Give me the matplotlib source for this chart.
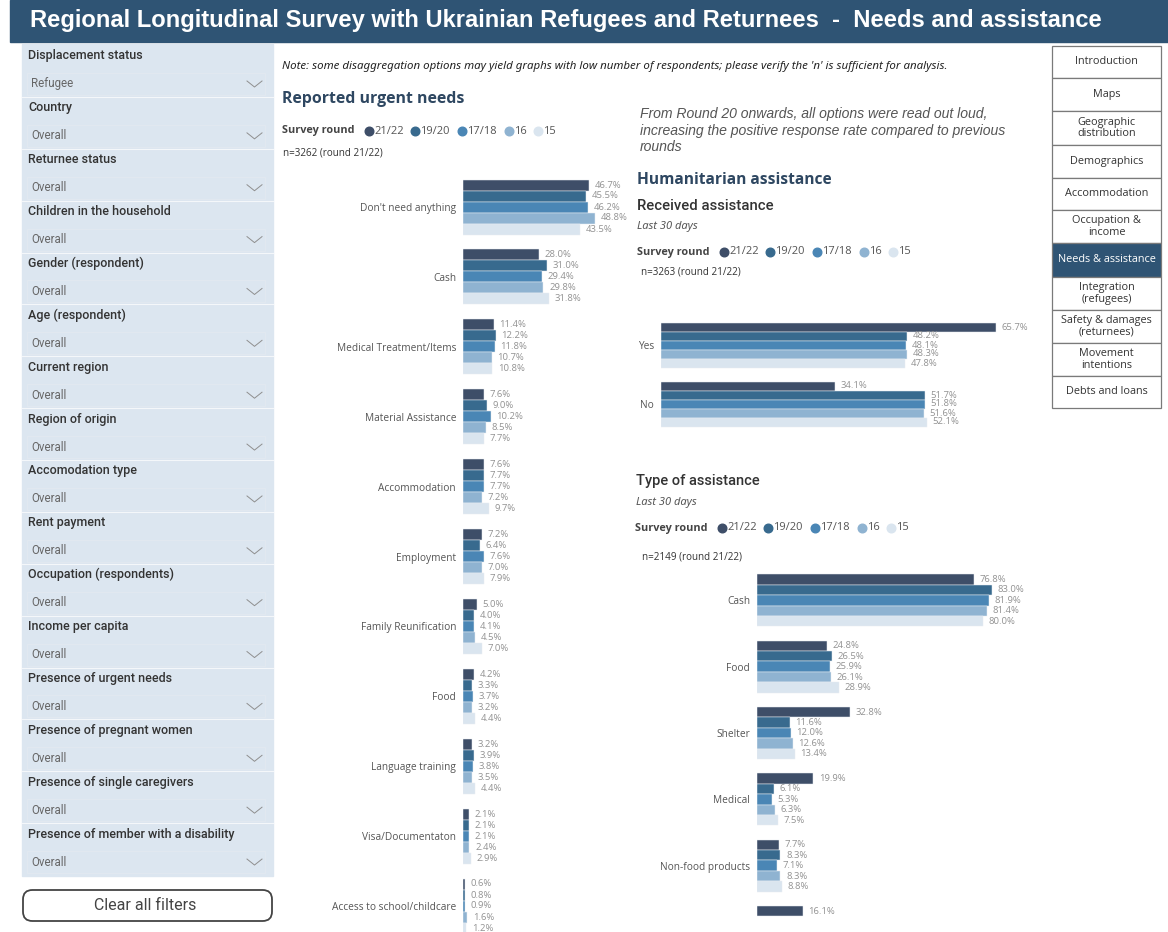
"""
Power BI style page: Needs and assistance (refugees), rebuilt with matplotlib.
Saves out.png at 1168x932.
"""

import numpy as np
import matplotlib
matplotlib.use("Agg")
import matplotlib.pyplot as plt
from matplotlib import font_manager as fm
from matplotlib.patches import Rectangle, FancyBboxPatch
from matplotlib.lines import Line2D

W, H = 1168, 932
DPI = 100

_names = {f.name for f in fm.fontManager.ttflist}
TITLE_FONT = "Liberation Sans Narrow" if "Liberation Sans Narrow" in _names else "Liberation Sans"
UI_FONT = "Open Sans"
ITALIC_FONT = "Noto Sans"
SIDE_FONT = "Roboto"
NOTE_FONT = "Liberation Sans"

HEADER_BLUE = "#2f5474"
SIDEBAR_BG = "#dce6f0"
TITLE_BLUE = "#2e4761"

# --- Data -------------------------------------------------------------------
ROUNDS = ["21/22", "19/20", "17/18", "16", "15"]
ROUND_COLORS = ["#3e4e68", "#386a8e", "#4a86b5", "#8fb3d1", "#dae5ef"]

NEEDS_CATS = ["Don't need anything", "Cash", "Medical Treatment/Items",
              "Material Assistance", "Accommodation", "Employment",
              "Family Reunification", "Food", "Language training",
              "Visa/Documentaton", "Access to school/childcare"]
NEEDS_2122 = [46.7, 28.0, 11.4, 7.6, 7.6, 7.2, 5.0, 4.2, 3.2, 2.1, 0.6]
NEEDS_1920 = [45.5, 31.0, 12.2, 9.0, 7.7, 6.4, 4.0, 3.3, 3.9, 2.1, 0.8]
NEEDS_1718 = [46.2, 29.4, 11.8, 10.2, 7.7, 7.6, 4.1, 3.7, 3.8, 2.1, 0.9]
NEEDS_16 = [48.8, 29.8, 10.7, 8.5, 7.2, 7.0, 4.5, 3.2, 3.5, 2.4, 1.6]
NEEDS_15 = [43.5, 31.8, 10.8, 7.7, 9.7, 7.9, 7.0, 4.4, 4.4, 2.9, 1.2]

RECEIVED_CATS = ["Yes", "No"]
RECEIVED_2122 = [65.7, 34.1]
RECEIVED_1920 = [48.2, 51.7]
RECEIVED_1718 = [48.1, 51.8]
RECEIVED_16 = [48.3, 51.6]
RECEIVED_15 = [47.8, 52.1]

# last category is cut off at the bottom of the page (only 16.1% visible)
TYPE_CATS = ["Cash", "Food", "Shelter", "Medical", "Non-food products", ""]
TYPE_2122 = [76.8, 24.8, 32.8, 19.9, 7.7, 16.1]
TYPE_1920 = [83.0, 26.5, 11.6, 6.1, 8.3, np.nan]
TYPE_1718 = [81.9, 25.9, 12.0, 5.3, 7.1, np.nan]
TYPE_16 = [81.4, 26.1, 12.6, 6.3, 8.3, np.nan]
TYPE_15 = [80.0, 28.9, 13.4, 7.5, 8.8, np.nan]

FILTERS = ["Displacement status", "Country", "Returnee status",
           "Children in the household", "Gender (respondent)", "Age (respondent)",
           "Current region", "Region of origin", "Accomodation type", "Rent payment",
           "Occupation (respondents)", "Income per capita", "Presence of urgent needs",
           "Presence of pregnant women", "Presence of single caregivers",
           "Presence of member with a disability"]
FILTER_VALUES = ["Refugee"] + ["Overall"] * 15

NAV_PAGES = ["Introduction", "Maps", "Geographic\ndistribution", "Demographics",
             "Accommodation", "Occupation &\nincome", "Needs & assistance",
             "Integration\n(refugees)", "Safety & damages\n(returnees)",
             "Movement\nintentions", "Debts and loans"]
NAV_ACTIVE = "Needs & assistance"

NOTE_LINES = ["From Round 20 onwards, all options were read out loud,",
              "increasing the positive response rate compared to previous",
              "rounds"]


# --- helpers (pixel coords, origin top-left) --------------------------------
def fx(x):
    return x / W


def fy(y):
    return 1 - y / H


def text(fig, x, y, s, **kw):
    kw.setdefault("va", "center")
    return fig.text(fx(x), fy(y), s, **kw)


def fit_width(fig, t, width_px):
    """Scale a text's font size so it spans width_px pixels."""
    r = fig.canvas.get_renderer()
    w = t.get_window_extent(r).width
    t.set_fontsize(t.get_fontsize() * width_px / w)


def rect(fig, x0, y0, x1, y1, **kw):
    fig.add_artist(Rectangle((fx(x0), fy(y1)), (x1 - x0) / W, (y1 - y0) / H,
                             transform=fig.transFigure, **kw))


def add_axes(fig, x0, y0, x1, y1):
    return fig.add_axes([fx(x0), fy(y1), (x1 - x0) / W, (y1 - y0) / H])


def legend(fig, x, y):
    text(fig, x, y, "Survey round", fontsize=7.8, fontweight="bold",
         color="#444444", family=UI_FONT)
    offsets = [87, 133, 180, 227, 256]
    for off, lab, col in zip(offsets, ROUNDS, ROUND_COLORS):
        fig.add_artist(Line2D([fx(x + off)], [fy(y)], marker="o", markersize=6.2,
                              color=col, linestyle="none", transform=fig.transFigure))
        text(fig, x + off + 5, y, lab, fontsize=8, color="#555555", family=UI_FONT)


def grouped_bars(ax, cats, series, px_per_unit, width_px, top_pad, pitch_px,
                 height_px, bar_px):
    """Horizontal grouped bars laid out on a pixel-based grid."""
    ax.set_xlim(0, width_px / px_per_unit)
    n_units = height_px / pitch_px
    top = top_pad / pitch_px
    ax.set_ylim(n_units - top, -top)
    step = bar_px / pitch_px
    y = np.arange(len(cats))
    for k, (vals, col) in enumerate(zip(series, ROUND_COLORS)):
        yy = y + (k - 2) * step
        ax.barh(yy, vals, height=step, color=col, edgecolor="#e9edf2",
                linewidth=0.35)
        for yi, v in zip(yy, vals):
            if np.isnan(v):
                continue
            ax.annotate(f"{v:.1f}%", (v, yi), xytext=(4, 0),
                        textcoords="offset points", va="center", ha="left",
                        fontsize=6.8, color="#929292", family=UI_FONT,
                        annotation_clip=False)
    ax.set_yticks(y)
    ax.set_yticklabels(cats, fontsize=7.3, color="#555555", family=UI_FONT)
    ax.tick_params(axis="y", length=0, pad=5)
    ax.set_xticks([])
    for s in ax.spines.values():
        s.set_visible(False)
    ax.patch.set_alpha(0)


fig = plt.figure(figsize=(W / DPI, H / DPI), dpi=DPI)
fig.patch.set_facecolor("white")

# --- Header -----------------------------------------------------------------
rect(fig, 10, 0, W, 42, color=HEADER_BLUE)
title = text(fig, 30, 21, "Regional Longitudinal Survey with Ukrainian Refugees and Returnees  -  Needs and assistance",
             fontsize=17, fontweight="bold", color="white", family=TITLE_FONT)
fit_width(fig, title, 1073)

# --- Sidebar filters --------------------------------------------------------
rect(fig, 22, 44, 273, 876, color=SIDEBAR_BG)
for i, (lab, val) in enumerate(zip(FILTERS, FILTER_VALUES)):
    y = 56 + 51.87 * i
    text(fig, 28, y, lab, fontsize=9, color="#333333", family=SIDE_FONT,
         fontweight="medium")
    vy = y + 28
    rect(fig, 27, vy - 11, 265, vy + 11, facecolor="none", edgecolor="#e2e9f1",
         linewidth=0.6)
    text(fig, 31, vy, val, fontsize=8.3, color="#666666", family=SIDE_FONT)
    fig.add_artist(Line2D([fx(247), fx(254.5), fx(262)], [fy(vy - 3), fy(vy + 3), fy(vy - 3)],
                          color="#8f8f8f", linewidth=0.7, transform=fig.transFigure))
    if i < len(FILTERS) - 1:
        fig.add_artist(Line2D([fx(22), fx(273)], [fy(vy + 13), fy(vy + 13)],
                              color="white", linewidth=0.8, alpha=0.7,
                              transform=fig.transFigure))

fig.add_artist(FancyBboxPatch((fx(23), fy(921)), (272 - 23) / W, (921 - 890) / H,
                              boxstyle="round,pad=0,rounding_size=0.008",
                              transform=fig.transFigure, facecolor="white",
                              edgecolor="#444444", linewidth=1.3,
                              mutation_aspect=W / H))
text(fig, 145, 906, "Clear all filters", fontsize=11.5, color="#444444",
     family=SIDE_FONT, ha="center")

# --- Navigation buttons -----------------------------------------------------
nav_edges = [46, 78, 111, 145, 178, 210, 243, 277, 310, 343, 376, 408]
for lab, y0, y1 in zip(NAV_PAGES, nav_edges[:-1], nav_edges[1:]):
    active = lab == NAV_ACTIVE
    rect(fig, 1052, y0, 1161, y1, facecolor=HEADER_BLUE if active else "white",
         edgecolor="#7a7a7a", linewidth=0.9)
    text(fig, 1106.5, (y0 + y1) / 2, lab, fontsize=7.8, ha="center",
         color="white" if active else "#333333", family=UI_FONT, linespacing=1.1)

# --- Main panel texts -------------------------------------------------------
note = text(fig, 282, 66, "Note: some disaggregation options may yield graphs with low number of "
            "respondents; please verify the 'n' is sufficient for analysis.",
            fontsize=7, style="italic", color="#222222", family=ITALIC_FONT)
fit_width(fig, note, 665)
text(fig, 282, 99, "Reported urgent needs", fontsize=11.4, fontweight="bold",
     color=TITLE_BLUE, family=UI_FONT)
legend(fig, 282, 131)
text(fig, 283, 153, "n=3262 (round 21/22)", fontsize=7.1, color="#333333", family=UI_FONT)

for line, ly in zip(NOTE_LINES, [114, 131, 147]):
    text(fig, 640, ly, line, fontsize=10.1, style="italic", color="#555555",
         family=NOTE_FONT)
text(fig, 637, 180, "Humanitarian assistance", fontsize=11.2, fontweight="bold",
     color=TITLE_BLUE, family=UI_FONT)
text(fig, 637, 206, "Received assistance", fontsize=10.7, color="#333333",
     family=SIDE_FONT, fontweight="medium")
text(fig, 637, 227, "Last 30 days", fontsize=8, style="italic", color="#555555",
     family=ITALIC_FONT)
legend(fig, 637, 252)
text(fig, 641, 272, "n=3263 (round 21/22)", fontsize=7.1, color="#333333", family=UI_FONT)

text(fig, 636, 481, "Type of assistance", fontsize=10.5, color="#333333",
     family=SIDE_FONT, fontweight="medium")
text(fig, 636, 502, "Last 30 days", fontsize=8, style="italic", color="#555555",
     family=ITALIC_FONT)
legend(fig, 635, 528)
text(fig, 642, 557, "n=2149 (round 21/22)", fontsize=7.1, color="#333333", family=UI_FONT)

# --- Charts -----------------------------------------------------------------
ax_needs = add_axes(fig, 463, 172, 640, 932)
grouped_bars(ax_needs, NEEDS_CATS,
             [NEEDS_2122, NEEDS_1920, NEEDS_1718, NEEDS_16, NEEDS_15],
             px_per_unit=2.7, width_px=177, top_pad=35, pitch_px=69.9,
             height_px=760, bar_px=11)

ax_rec = add_axes(fig, 661, 310, 1040, 440)
grouped_bars(ax_rec, RECEIVED_CATS,
             [RECEIVED_2122, RECEIVED_1920, RECEIVED_1718, RECEIVED_16, RECEIVED_15],
             px_per_unit=5.1, width_px=379, top_pad=35, pitch_px=59,
             height_px=130, bar_px=9)

ax_type = add_axes(fig, 757, 570, 1040, 932)
grouped_bars(ax_type, TYPE_CATS,
             [TYPE_2122, TYPE_1920, TYPE_1718, TYPE_16, TYPE_15],
             px_per_unit=2.83, width_px=283, top_pad=32, pitch_px=70,
             height_px=362, bar_px=11)

fig.savefig("out.png", dpi=DPI)
